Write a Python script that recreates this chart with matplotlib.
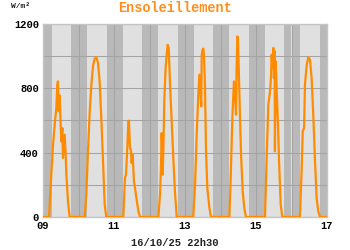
import matplotlib
matplotlib.use("Agg")
import matplotlib.pyplot as plt
import numpy as np

# heures / valeurs (W/m2) pour chaque jour, du 09 au 16
h09 = [4.1, 5.6, 6.8, 7.9, 9.0, 9.7, 10.1, 10.6, 11.3, 11.7, 12.4, 13.1, 13.5, 14.2, 14.7, 15.3, 15.8, 16.9, 18.0]
v09 = [0, 263, 450, 574, 678, 823, 843, 657, 756, 636, 470, 553, 367, 450, 512, 388, 263, 97, 0]
h10 = [4.2, 5.3, 6.4, 7.6, 8.7, 9.8, 10.9, 12.1, 13.2, 14.3, 15.4, 16.6, 17.7, 18.8]
v10 = [0, 139, 408, 657, 823, 937, 984, 993, 957, 843, 616, 346, 77, 0]
h11 = [6.3, 7.4, 8.1, 9.0, 9.7, 10.1, 10.8, 11.4, 11.9, 12.6, 13.5, 14.2, 15.3, 16.5, 17.6]
v11 = [0, 242, 263, 429, 595, 599, 429, 420, 336, 388, 222, 180, 108, 35, 0]
h12 = [6.0, 7.1, 7.8, 8.2, 8.6, 8.9, 9.4, 10.0, 10.9, 11.6, 12.3, 13.0, 13.9, 15.0, 16.1, 17.2, 18.4]
v12 = [0, 139, 325, 522, 408, 263, 429, 719, 926, 1009, 1071, 1051, 823, 595, 367, 160, 0]
h13 = [5.6, 6.8, 7.9, 9.0, 9.7, 10.1, 10.6, 11.0, 11.3, 11.9, 12.4, 12.8, 13.5, 14.2, 15.1, 16.5, 17.6]
v13 = [0, 201, 512, 761, 885, 823, 740, 688, 1009, 1040, 1047, 1009, 823, 408, 180, 56, 0]
h14 = [6.0, 6.9, 8.0, 9.1, 9.8, 10.5, 10.9, 11.4, 11.8, 12.3, 13.2, 13.9, 15.0, 16.1, 17.2]
v14 = [0, 242, 616, 843, 761, 636, 926, 1123, 1113, 926, 616, 388, 160, 56, 0]
h15 = [6.1, 7.2, 8.3, 9.5, 10.1, 10.6, 11.1, 11.7, 12.1, 12.6, 12.8, 13.3, 14.0, 14.7, 15.6, 16.7, 17.8]
v15 = [0, 367, 698, 781, 864, 1009, 926, 1051, 864, 1030, 408, 968, 781, 616, 346, 77, 0]
h16 = [5.7, 6.9, 7.6, 8.5, 9.1, 10.3, 11.4, 12.5, 13.6, 14.8, 15.9, 17.0, 18.1, 19.3]
v16 = [0, 305, 533, 553, 823, 947, 993, 978, 864, 616, 346, 118, 35, 0]

hours = [h09, h10, h11, h12, h13, h14, h15, h16]
values = [v09, v10, v11, v12, v13, v14, v15, v16]

day_labels = ["09", "11", "13", "15", "17"]
lever, coucher = 0.25, 0.79  # fraction de journee

orange = "#ff8c00"
mono = "Liberation Mono"

t = [0.0]
v = [0.0]
for d, (hh, vv) in enumerate(zip(hours, values)):
    t += [d + x / 24 for x in hh]
    v += vv
t.append(7.97)
v.append(0.0)

fig = plt.figure(figsize=(3.5, 2.5), dpi=100)
ax = fig.add_axes([43 / 350, 33 / 250, 284 / 350, 193 / 250])
ax.set_facecolor("#e0e0e0")

for d in range(8):
    ax.axvspan(d, d + lever, color="#b9b9b9", lw=0, zorder=0)
    ax.axvspan(d + coucher, d + 1, color="#b9b9b9", lw=0, zorder=0)

ax.plot(t, v, color=orange, lw=1.6, zorder=3, solid_joinstyle="round")

ax.set_xlim(0, 8)
ax.set_ylim(0, 1200)
ax.set_xticks([0, 2, 4, 6, 8])
ax.set_xticks([1, 3, 5, 7], minor=True)
ax.set_xticklabels(day_labels)
ax.set_yticks([0, 400, 800, 1200])
ax.set_yticks([200, 600, 1000], minor=True)
ax.grid(True, which="both", color="#a4a4a4", lw=0.75, zorder=1)
ax.set_axisbelow(True)
ax.tick_params(which="both", length=0)
ax.tick_params(axis="y", pad=3)
ax.tick_params(axis="x", pad=3)
for lab in ax.get_xticklabels() + ax.get_yticklabels():
    lab.set_family(mono)
    lab.set_weight("bold")
    lab.set_fontsize(7.5)
for s in ax.spines.values():
    s.set_color("#c4c4c4")
    s.set_linewidth(1)

fig.text(0.5, 1 - 8 / 250, "Ensoleillement", ha="center", va="center",
         family=mono, weight="bold", fontsize=9.8, color="#ff9020")
fig.text(11 / 350, 1 - 6 / 250, "W/m²", ha="left", va="center",
         family=mono, weight="bold", fontsize=5.8, color="#222222")
fig.text(175 / 350, 1 - 243 / 250, "16/10/25 22h30", ha="center", va="center",
         family=mono, weight="bold", fontsize=7.5, color="#222222")

fig.savefig("out.png", dpi=100)
